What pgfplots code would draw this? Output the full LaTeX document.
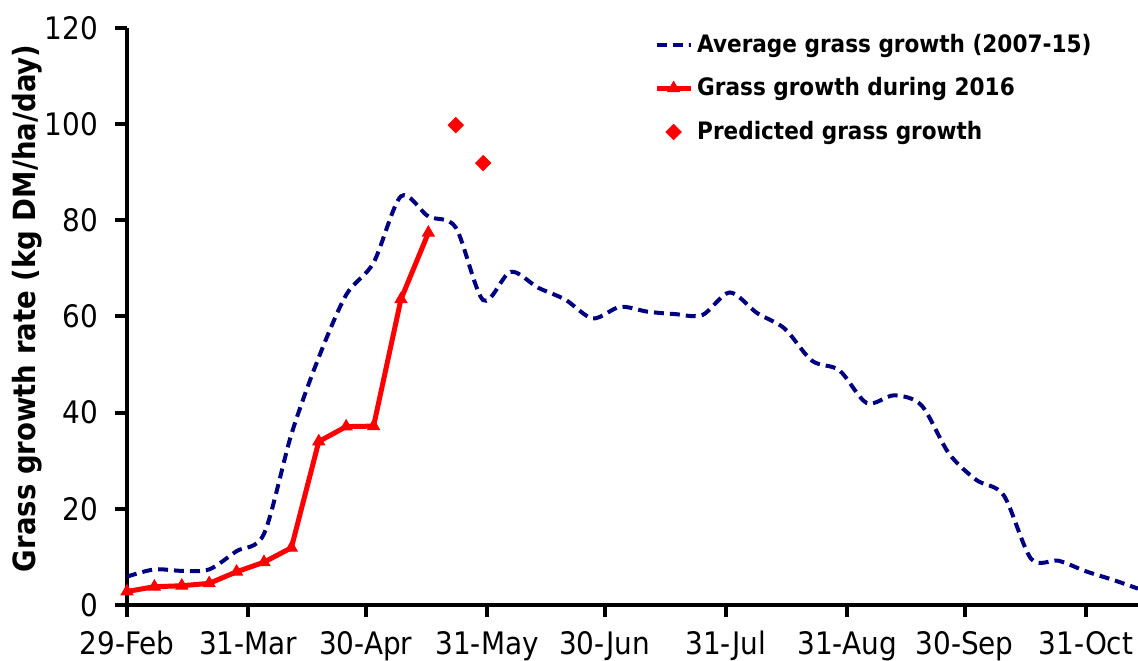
\documentclass[border=0pt]{standalone}
\usepackage{fontspec}
\setmainfont{DejaVu Sans}
\newfontfamily\cond{DejaVu Sans Condensed}
\usepackage{pgfplots}
\pgfplotsset{compat=1.18}
\definecolor{avgblue}{RGB}{0,0,128}
\definecolor{myred}{RGB}{255,0,0}
\begin{document}
\begin{tikzpicture}
\begin{axis}[
  name=ax,
  scale only axis,
  width=505.5pt, height=288.5pt,
  xmin=0, xmax=258.3,
  ymin=0, ymax=120,
  clip=false,
  axis lines*=left,
  axis line style={line width=2pt, black},
  tick align=outside,
  major tick length=6pt,
  tick style={line width=2pt, black},
  xtick={0,31,61,92,122,153,184,214,245},
  xticklabels={29-Feb,31-Mar,30-Apr,31-May,30-Jun,31-Jul,31-Aug,30-Sep,31-Oct},
  ytick={0,20,40,60,80,100,120},
  /pgf/number format/assume math mode=true,
  xticklabel style={font=\cond\fontsize{15.5}{18}\selectfont, yshift=-3.5pt},
  yticklabel style={font=\cond\fontsize{15.5}{18}\selectfont, xshift=-5pt},
  ylabel={Grass growth rate (kg DM/ha/day)},
  ylabel style={font=\cond\bfseries\fontsize{15.3}{17}\selectfont, at={(axis description cs:-0.099,0.514)}, anchor=center},
  legend cell align=left,
  legend style={at={(axis description cs:0.515,1.004)}, anchor=north west, draw=none, fill=none,
    font=\cond\bfseries\fontsize{12}{14}\selectfont, row sep=7.2pt},
]
\addplot[avgblue, line width=2pt, dash pattern=on 5pt off 3pt, smooth, tension=0.5] coordinates {
(0,5.9) (7,7.4) (14,7.1) (21,7.4) (28,11.2) (35,14.8) (42,35.5) (49,51.5) (56,64.5) (63,71.2)
(70,85.0) (77,80.8) (84,78.5) (91,63.4) (98,69.3) (105,66.0) (112,63.5) (119,59.6) (126,62.0)
(133,61.0) (140,60.5) (147,60.3) (154,65.0) (161,60.7) (168,57.5) (175,50.8) (182,48.8) (189,42.0)
(196,43.6) (203,41.5) (210,31.5) (217,26.0) (224,22.8) (231,9.6) (238,9.2) (245,7.0) (252,5.2) (258.3,3.4)
};
\addlegendentry{Average grass growth (2007-15)}
\addplot[myred, line width=2.5pt, mark=triangle*, mark size=3.4pt, mark options={solid, line width=0.5pt}] coordinates {
(0,2.8) (7,3.8) (14,4.0) (21,4.5) (28,6.9) (35,8.9) (42,11.9) (49,34.0) (56,37.1) (63,37.2) (70,63.6) (77,77.4)
};
\addlegendentry{Grass growth during 2016}
\addplot[myred, only marks, mark=square*, mark size=2.7pt, mark options={rotate=45}] coordinates {
(84,99.8) (91,91.9)
};
\addlegendentry{Predicted grass growth}
\end{axis}
\pgfresetboundingbox
\useasboundingbox ([shift={(-63.5pt,-28pt)}]ax.south west) rectangle ([shift={(0pt,14pt)}]ax.north east);
\end{tikzpicture}
\end{document}
